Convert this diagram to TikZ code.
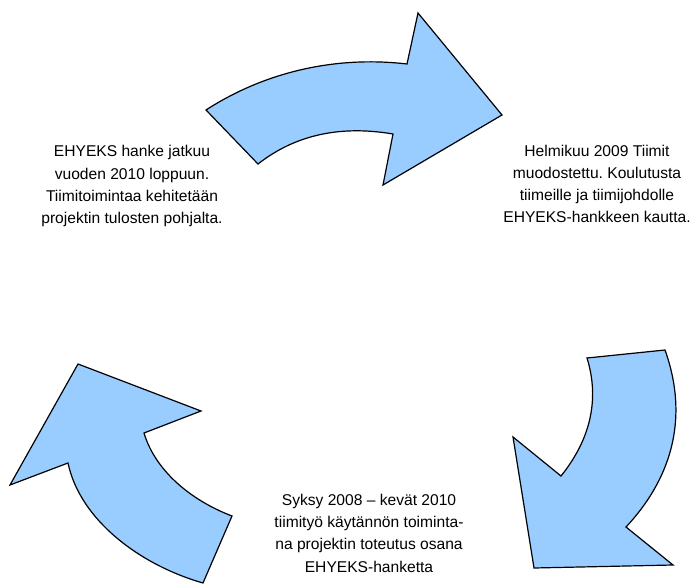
\documentclass[tikz,border=0pt]{standalone}
\usepackage{fontspec}
\setmainfont{Liberation Sans}
\frenchspacing
\definecolor{arrowblue}{RGB}{153,204,255}
\tikzset{
  bigarrow/.style={draw=black, fill=arrowblue, line width=1.2pt, line join=miter},
  label/.style={align=center, inner sep=0pt, anchor=base, font=\fontsize{15.6}{22.2}\selectfont}
}
\begin{document}
\begin{tikzpicture}[x=1pt,y=-1pt]
\useasboundingbox (0,0) rectangle (696,585);
% top arrow
\path[bigarrow] (206,110) .. controls (260,75) and (330,55) .. (407,64)
  -- (418,13) -- (502,115) -- (383,185) -- (393,134)
  .. controls (340,125) and (295,135) .. (258,164) -- cycle;
% right arrow
\path[bigarrow] (587,358) -- (665,350) .. controls (690,420) and (670,480) .. (626,527)
  -- (673,565) -- (534,568) -- (513,437) -- (561,476)
  .. controls (590,440) and (600,400) .. (587,358) -- cycle;
% left arrow
\path[bigarrow] (203,583) -- (232,516) .. controls (190,500) and (155,470) .. (144,433)
  -- (201,411) -- (78,364) -- (10,485) -- (68,463)
  .. controls (80,520) and (140,565) .. (203,583) -- cycle;
\node[label] (left) at (132,223.5) {EHYEKS hanke jatkuu\\vuoden 2010 loppuun.\\Tiimitoimintaa kehitetään\\projektin tulosten pohjalta.};
\node[label] (right) at (597,223) {Helmikuu 2009 Tiimit\\muodostettu. Koulutusta\\tiimeille ja tiimijohdolle\\EHYEKS-hankkeen kautta.};
\node[label] (bottom) at (369,572) {Syksy 2008 – kevät 2010\\tiimityö käytännön toiminta-\\na projektin toteutus osana\\EHYEKS-hanketta};
\end{tikzpicture}
\end{document}
